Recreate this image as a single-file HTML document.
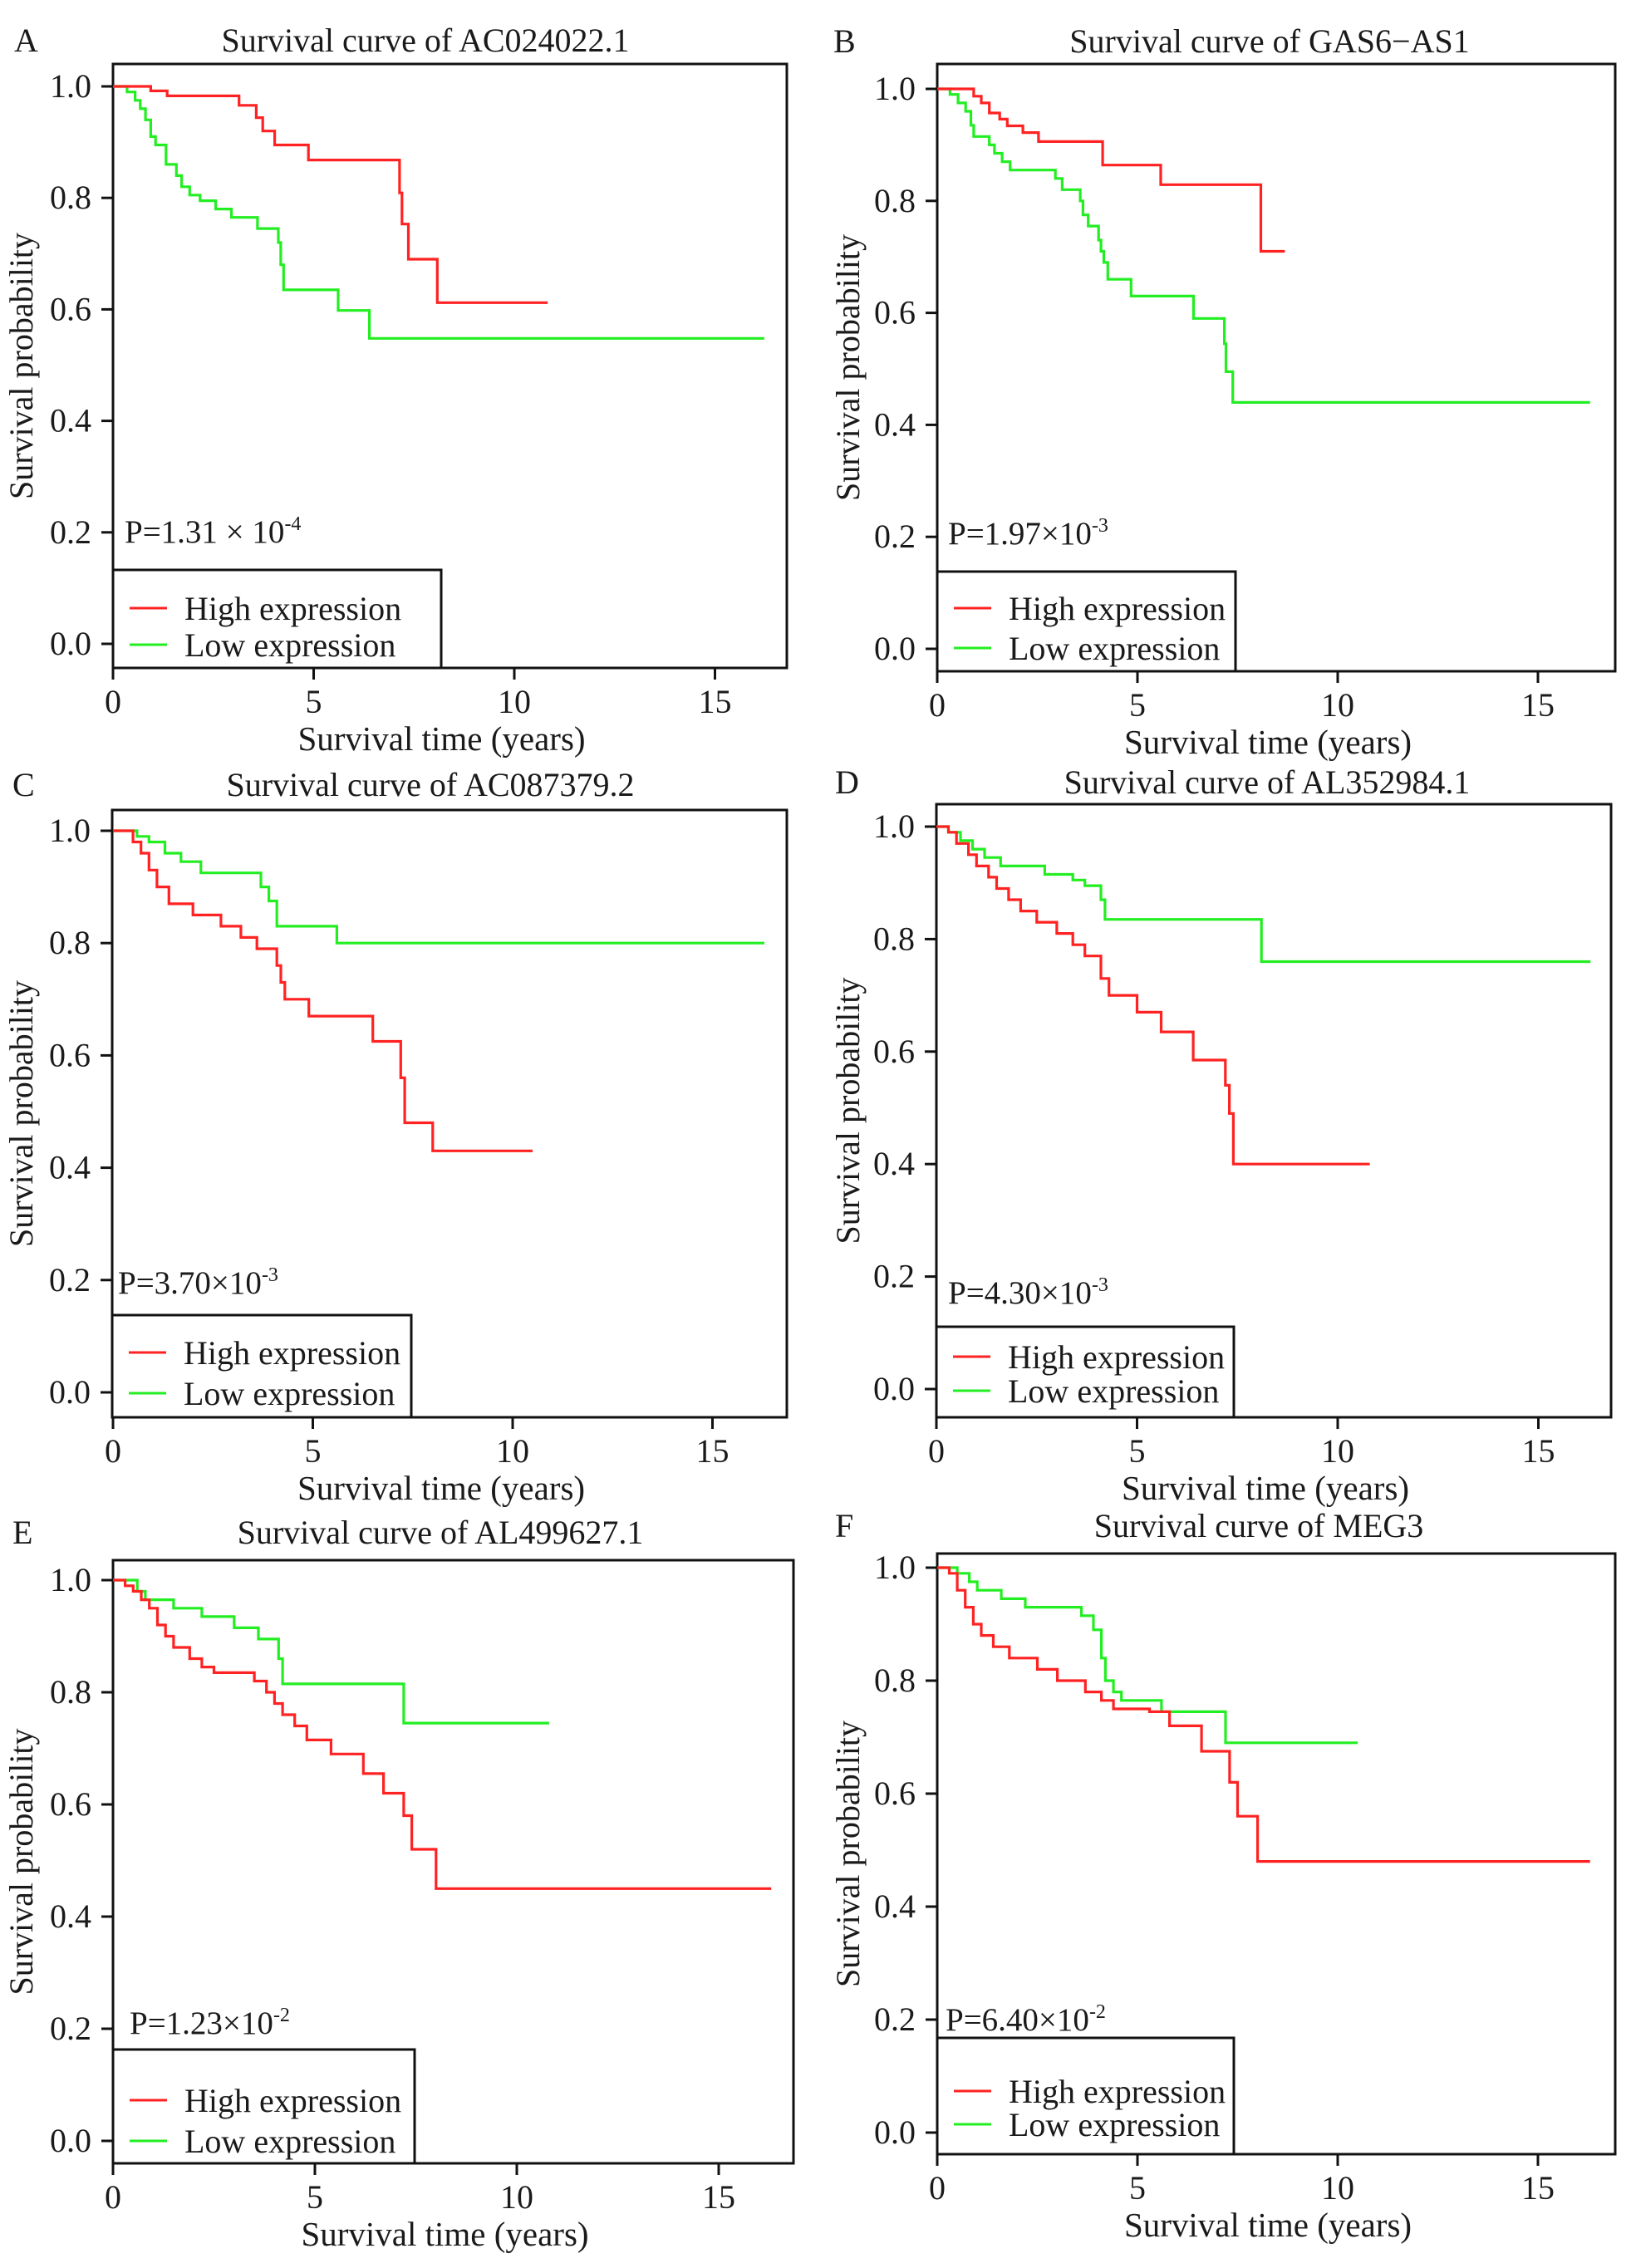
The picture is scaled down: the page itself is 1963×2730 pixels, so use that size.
<!DOCTYPE html>
<html><head><meta charset="utf-8"><title>Survival curves</title>
<style>
html,body{margin:0;padding:0;background:#fff;}
svg{display:block;font-family:"Liberation Serif","Times New Roman",serif;}
</style></head>
<body>
<svg id="fig" width="1963" height="2730" viewBox="0 0 1963 2730" xmlns="http://www.w3.org/2000/svg"></svg>
<script>
// ---- data (years, survival probability) ----
const xTicks = [0, 5, 10, 15];
const yTicks = [0.0, 0.2, 0.4, 0.6, 0.8, 1.0];
const yTickLabels = ["0.0", "0.2", "0.4", "0.6", "0.8", "1.0"];
const titles = ["Survival curve of AC024022.1", "Survival curve of GAS6\u2212AS1", "Survival curve of AC087379.2", "Survival curve of AL352984.1", "Survival curve of AL499627.1", "Survival curve of MEG3"];
const letters = ["A", "B", "C", "D", "E", "F"];
const pMantissa = ["1.31 \u00d7 10", "1.97\u00d710", "3.70\u00d710", "4.30\u00d710", "1.23\u00d710", "6.40\u00d710"];
const pExponent = ["-4", "-3", "-3", "-3", "-2", "-2"];

const aHighT = [0, 0.94, 1.35, 3.14, 3.57, 3.73, 4.03, 4.87, 7.14, 7.2, 7.36, 8.08, 10.83];
const aHighS = [1, 0.992, 0.983, 0.966, 0.944, 0.92, 0.895, 0.868, 0.809, 0.753, 0.69, 0.612, 0.612];
const aLowT = [0, 0.35, 0.55, 0.68, 0.81, 0.94, 1.06, 1.32, 1.58, 1.71, 1.91, 2.17, 2.56, 2.95, 3.6, 4.12, 4.18, 4.25, 5.61, 6.39, 16.23];
const aLowS = [1, 0.99, 0.975, 0.96, 0.94, 0.91, 0.895, 0.86, 0.84, 0.82, 0.805, 0.795, 0.78, 0.765, 0.745, 0.72, 0.68, 0.635, 0.598, 0.548, 0.548];

const bHighT = [0, 0.91, 1.10, 1.30, 1.56, 1.75, 2.14, 2.53, 4.13, 5.58, 8.08, 8.68];
const bHighS = [1, 0.987, 0.975, 0.957, 0.946, 0.934, 0.922, 0.906, 0.864, 0.829, 0.71, 0.71];
const bLowT = [0, 0.32, 0.52, 0.71, 0.84, 0.91, 1.30, 1.43, 1.62, 1.82, 2.95, 3.12, 3.57, 3.64, 3.77, 4.03, 4.09, 4.16, 4.26, 4.84, 6.40, 7.17, 7.21, 7.38, 16.3];
const bLowS = [1, 0.99, 0.975, 0.96, 0.935, 0.915, 0.9, 0.885, 0.87, 0.855, 0.84, 0.82, 0.8, 0.775, 0.755, 0.73, 0.71, 0.69, 0.66, 0.63, 0.59, 0.545, 0.495, 0.44, 0.44];

const cHighT = [0, 0.5, 0.7, 0.9, 1.1, 1.4, 2.0, 2.7, 3.2, 3.6, 4.1, 4.2, 4.3, 4.9, 6.5, 7.2, 7.3, 8.0, 10.5];
const cHighS = [1, 0.98, 0.96, 0.93, 0.9, 0.87, 0.85, 0.83, 0.81, 0.79, 0.76, 0.73, 0.70, 0.67, 0.625, 0.56, 0.48, 0.43, 0.43];
const cLowT = [0, 0.6, 0.9, 1.3, 1.7, 2.2, 3.7, 3.9, 4.1, 5.6, 16.3];
const cLowS = [1, 0.99, 0.98, 0.96, 0.945, 0.925, 0.9, 0.875, 0.83, 0.80, 0.80];

const dHighT = [0, 0.3, 0.5, 0.8, 1.0, 1.3, 1.5, 1.8, 2.1, 2.5, 3.0, 3.4, 3.7, 4.1, 4.3, 5.0, 5.6, 6.4, 7.2, 7.3, 7.4, 10.8];
const dHighS = [1, 0.99, 0.97, 0.95, 0.93, 0.91, 0.89, 0.87, 0.85, 0.83, 0.81, 0.79, 0.77, 0.73, 0.70, 0.67, 0.635, 0.585, 0.54, 0.49, 0.40, 0.40];
const dLowT = [0, 0.3, 0.6, 0.9, 1.2, 1.6, 2.7, 3.4, 3.7, 4.1, 4.2, 8.1, 16.3];
const dLowS = [1, 0.99, 0.975, 0.96, 0.945, 0.93, 0.915, 0.905, 0.895, 0.87, 0.835, 0.76, 0.76];

const eHighT = [0, 0.3, 0.5, 0.7, 0.9, 1.1, 1.3, 1.5, 1.9, 2.2, 2.5, 3.5, 3.8, 4.0, 4.2, 4.5, 4.8, 5.4, 6.2, 6.7, 7.2, 7.4, 8.0, 16.3];
const eHighS = [1, 0.99, 0.98, 0.965, 0.95, 0.92, 0.9, 0.88, 0.86, 0.845, 0.835, 0.82, 0.8, 0.78, 0.76, 0.74, 0.715, 0.69, 0.655, 0.62, 0.58, 0.52, 0.45, 0.45];
const eLowT = [0, 0.6, 0.8, 1.5, 2.2, 3.0, 3.6, 4.1, 4.2, 7.2, 10.8];
const eLowS = [1, 0.98, 0.965, 0.95, 0.935, 0.915, 0.895, 0.86, 0.815, 0.745, 0.745];

const fHighT = [0, 0.3, 0.5, 0.7, 0.9, 1.1, 1.4, 1.8, 2.5, 3.0, 3.7, 4.1, 4.4, 5.3, 5.8, 6.6, 7.3, 7.5, 8.0, 16.3];
const fHighS = [1, 0.99, 0.96, 0.93, 0.90, 0.88, 0.86, 0.84, 0.82, 0.80, 0.78, 0.765, 0.75, 0.745, 0.72, 0.675, 0.62, 0.56, 0.48, 0.48];
const fLowT = [0, 0.5, 0.8, 1.0, 1.6, 2.2, 3.6, 3.9, 4.1, 4.2, 4.4, 4.6, 5.6, 7.2, 10.5];
const fLowS = [1, 0.99, 0.975, 0.96, 0.945, 0.93, 0.915, 0.89, 0.84, 0.80, 0.78, 0.765, 0.745, 0.69, 0.69];

const highTimes = [aHighT, bHighT, cHighT, dHighT, eHighT, fHighT];
const highSurv = [aHighS, bHighS, cHighS, dHighS, eHighS, fHighS];
const lowTimes = [aLowT, bLowT, cLowT, dLowT, eLowT, fLowT];
const lowSurv = [aLowS, bLowS, cLowS, dLowS, eLowS, fLowS];

// ---- layout (pixel geometry per panel) ----
const layout = [
 {bx0:136,bx1:947,by0:77,by1:804,x0:136,xr:48.3,y1:104,y0:775,tx:512,ty:62,lx:17,ly:62,legTop:686,legRight:531,legHi:732,legLo:776,px:150,py:653,yt:25},
 {bx0:1128,bx1:1944,by0:77,by1:808,x0:1128,xr:48.2,y1:107,y0:781,tx:1528,ty:63,lx:1003,ly:63,legTop:688,legRight:1487,legHi:732,legLo:780,px:1141,py:655,yt:1020},
 {bx0:135,bx1:947,by0:975,by1:1706,x0:136,xr:48.1,y1:1000,y0:1676,tx:518,ty:958,lx:15,ly:958,legTop:1583,legRight:495,legHi:1628,legLo:1677,px:142,py:1557,yt:25},
 {bx0:1127,bx1:1939,by0:968,by1:1706,x0:1127,xr:48.3,y1:995,y0:1672,tx:1525,ty:955,lx:1005,ly:955,legTop:1597,legRight:1485,legHi:1633,legLo:1674,px:1141,py:1569,yt:1020},
 {bx0:136,bx1:955,by0:1878,by1:2604,x0:136,xr:48.6,y1:1902,y0:2577,tx:530,ty:1858,lx:15,ly:1858,legTop:2467,legRight:499,legHi:2528,legLo:2577,px:156,py:2448,yt:25},
 {bx0:1128,bx1:1944,by0:1870,by1:2593,x0:1128,xr:48.2,y1:1887,y0:2567,tx:1515,ty:1850,lx:1005,ly:1850,legTop:2453,legRight:1485,legHi:2517,legLo:2557,px:1138,py:2444,yt:1020}
];

const NS = "http://www.w3.org/2000/svg";
const svg = document.getElementById("fig");
function mk(tag, attrs, parent) {
  const e = document.createElementNS(NS, tag);
  for (const k in attrs) e.setAttribute(k, attrs[k]);
  (parent || svg).appendChild(e);
  return e;
}
function txt(parent, x, y, s, size, anchor) {
  const t = mk("text", {x: x, y: y, "font-size": size, "text-anchor": anchor || "start", fill: "#1a1a1a"}, parent);
  t.textContent = s;
  return t;
}
function stepPath(T, S, sx, sy) {
  let d = "M" + sx(T[0]).toFixed(1) + "," + sy(S[0]).toFixed(1);
  for (let i = 1; i < T.length; i++) {
    d += " H" + sx(T[i]).toFixed(1) + " V" + sy(S[i]).toFixed(1);
  }
  return d;
}

layout.forEach((L, i) => {
  const g = mk("g", {});
  
  
  const sx = t => L.x0 + t * L.xr;
  const sy = v => L.y0 - v * (L.y0 - L.y1);

  const letter = txt(g, L.lx, L.ly, letters[i], 40);
  
  
  const title = txt(g, L.tx, L.ty, titles[i], 40, "middle");
  
  

  const box = mk("rect", {x: L.bx0, y: L.by0, width: L.bx1 - L.bx0, height: L.by1 - L.by0, fill: "none", stroke: "#111", "stroke-width": 3}, g);
  
  

  // y axis
  const ya = mk("g", {}, g);
  
  
  yTicks.forEach((v, k) => {
    const y = sy(v);
    mk("line", {x1: L.bx0 - 14, x2: L.bx0, y1: y, y2: y, stroke: "#111", "stroke-width": 3}, ya);
    const lb = txt(ya, L.bx0 - 26, y + 13, yTickLabels[k], 40, "end");
    
    
  });
  const yt = txt(g, 0, 0, "Survival probability", 40, "middle");
  yt.setAttribute("transform", "translate(" + (L.yt + 14) + "," + ((L.by0 + L.by1) / 2) + ") rotate(-90)");
  
  

  // x axis
  const xa = mk("g", {}, g);
  
  
  xTicks.forEach(v => {
    const x = sx(v);
    mk("line", {x1: x, x2: x, y1: L.by1, y2: L.by1 + 14, stroke: "#111", "stroke-width": 3}, xa);
    const lb = txt(xa, x, L.by1 + 54, String(v), 40, "middle");
    
    
  });
  const xt = txt(g, (L.bx0 + L.bx1) / 2 - 10, L.by1 + 99, "Survival time (years)", 41, "middle");
  
  

  // curves
  const lo = mk("path", {d: stepPath(lowTimes[i], lowSurv[i], sx, sy), fill: "none", stroke: "#22ee22", "stroke-width": 3.2}, g);
  
  
  const hi = mk("path", {d: stepPath(highTimes[i], highSurv[i], sx, sy), fill: "none", stroke: "#ff2222", "stroke-width": 3.2}, g);
  
  

  // p-value
  const p = mk("text", {x: L.px, y: L.py, "font-size": 39, fill: "#1a1a1a"}, g);
  
  
  const t1 = mk("tspan", {}, p); t1.textContent = "P=" + pMantissa[i];
  const t2 = mk("tspan", {dy: -15, "font-size": 24}, p); t2.textContent = pExponent[i];

  // legend
  const lg = mk("g", {}, g);
  
  
  mk("rect", {x: L.bx0, y: L.legTop, width: L.legRight - L.bx0, height: L.by1 - L.legTop, fill: "#fff", stroke: "#111", "stroke-width": 3}, lg);
  const e1 = mk("g", {}, lg);
  
  
  mk("line", {x1: L.bx0 + 20, x2: L.bx0 + 65, y1: L.legHi, y2: L.legHi, stroke: "#ff2222", "stroke-width": 3}, e1);
  txt(e1, L.bx0 + 86, L.legHi + 14, "High expression", 40);
  const e2 = mk("g", {}, lg);
  
  
  mk("line", {x1: L.bx0 + 20, x2: L.bx0 + 65, y1: L.legLo, y2: L.legLo, stroke: "#22ee22", "stroke-width": 3}, e2);
  txt(e2, L.bx0 + 86, L.legLo + 14, "Low expression", 40);
});
</script>
</body></html>
